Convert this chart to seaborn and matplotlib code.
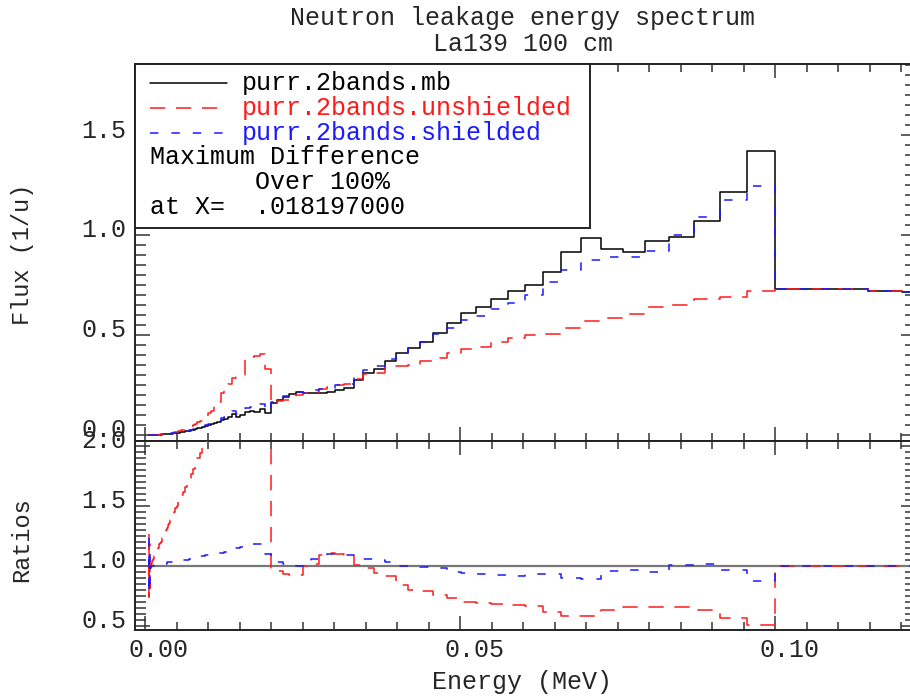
import numpy as np
import pandas as pd
import matplotlib
matplotlib.use("Agg")
import matplotlib.pyplot as plt
import seaborn as sns
from matplotlib.ticker import MultipleLocator
from matplotlib.transforms import ScaledTranslation
from matplotlib.patches import Rectangle
from matplotlib.lines import Line2D

# ---------------- data ----------------
BINS_PER_DECADE = 50          # equal-lethargy group structure
FIRST_EDGE_INDEX = -110       # lowest group edge = 0.1 * 10**(-110/50) MeV
REF_ENERGY = 0.1

series_names = ["purr.2bands.mb", "purr.2bands.unshielded", "purr.2bands.shielded"]

flux_mb = [
    # k=-110..-101
    0.0002, 0.0002, 0.0002, 0.0002, 0.0002, 0.0003, 0.0003, 0.0003, 0.0003, 0.0003,
    # k=-100..-51
    0.0003, 0.0003, 0.0004, 0.0004, 0.0004, 0.0005, 0.0006, 0.0006, 0.0007, 0.0008,
    0.0009, 0.0010, 0.0011, 0.0012, 0.0013, 0.0014, 0.0016, 0.0018, 0.0020, 0.0022,
    0.0024, 0.0027, 0.0030, 0.0033, 0.0036, 0.0040, 0.0044, 0.0049, 0.0054, 0.0060,
    0.0066, 0.0073, 0.0080, 0.0089, 0.0098, 0.0110, 0.0120, 0.0130, 0.0145, 0.0160,
    0.0180, 0.0200, 0.0220, 0.0245, 0.0270, 0.0300, 0.0330, 0.0370, 0.0410, 0.0450,
    # k=-50..-36
    0.050, 0.053, 0.060, 0.065, 0.075, 0.080, 0.088, 0.105, 0.090, 0.100,
    0.115, 0.120, 0.115, 0.130, 0.108,
    # k=-35..-1
    0.158, 0.175, 0.190, 0.205, 0.215, 0.210, 0.210, 0.210, 0.215, 0.225,
    0.235, 0.275, 0.310, 0.330, 0.370, 0.410, 0.437, 0.467, 0.510, 0.560,
    0.610, 0.640, 0.680, 0.720, 0.750, 0.817, 0.917, 0.987, 0.928, 0.917,
    0.970, 0.988, 1.072, 1.213, 1.420,
    # k=0..4
    0.732, 0.732, 0.728, 0.720, 0.713,
]

ratio_unshielded = [
    1.27, 0.74, 1.18, 0.82, 1.10, 0.90, 1.04, 0.97, 1.01, 1.02,
    1.02, 1.03, 1.04, 1.04, 1.05, 1.06, 1.06, 1.07, 1.08, 1.09,
    1.09, 1.10, 1.11, 1.12, 1.13, 1.14, 1.15, 1.17, 1.18, 1.19,
    1.20, 1.22, 1.23, 1.25, 1.27, 1.28, 1.30, 1.32, 1.34, 1.36,
    1.38, 1.40, 1.43, 1.45, 1.48, 1.50, 1.53, 1.56, 1.59, 1.62,
    1.66, 1.69, 1.73, 1.77, 1.81, 1.85, 1.90, 1.94, 1.99, 2.04,
    2.15, 2.25, 2.40, 2.50, 2.80, 2.85, 2.90, 2.70, 3.20, 3.00,
    3.30, 3.25, 3.45, 3.10, 3.05,
    0.98, 0.96, 0.93, 0.925, 0.925, 1.00, 1.02, 1.09, 1.105, 1.10,
    1.09, 1.01, 0.98, 0.94, 0.92, 0.84, 0.80, 0.79, 0.758, 0.73,
    0.703, 0.69, 0.685, 0.675, 0.667, 0.62, 0.585, 0.58, 0.633, 0.66,
    0.66, 0.66, 0.633, 0.57, 0.507,
    1.0, 1.0, 1.0, 1.0, 1.0,
]

ratio_shielded = [
    1.23, 0.77, 1.14, 0.86, 1.07, 0.93, 1.03, 0.98, 1.00, 1.00,
    1.00, 1.00, 1.00, 1.00, 1.00, 1.00, 1.00, 1.00, 1.01, 1.01,
    1.01, 1.01, 1.01, 1.01, 1.01, 1.01, 1.01, 1.01, 1.01, 1.02,
    1.02, 1.02, 1.02, 1.02, 1.02, 1.02, 1.02, 1.03, 1.03, 1.03,
    1.03, 1.03, 1.03, 1.04, 1.04, 1.04, 1.04, 1.04, 1.05, 1.05,
    1.05, 1.05, 1.06, 1.06, 1.06, 1.07, 1.07, 1.08, 1.08, 1.09,
    1.09, 1.10, 1.10, 1.11, 1.11, 1.12, 1.13, 1.14, 1.15, 1.16,
    1.17, 1.18, 1.18, 1.18, 1.10,
    1.04, 1.03, 1.017, 1.017, 1.00, 1.00, 1.06, 1.09, 1.10, 1.10,
    1.09, 1.065, 1.055, 1.05, 1.03, 1.00, 1.00, 0.995, 0.986, 0.953,
    0.94, 0.933, 0.925, 0.92, 0.935, 0.935, 0.897, 0.889, 0.958, 0.97,
    0.947, 1.01, 1.017, 0.968, 0.878,
    1.0, 1.0, 1.0, 1.0, 1.0,
]

title_lines = ["Neutron leakage energy spectrum", "La139 100 cm"]
x_label = "Energy (MeV)"
y_label_top = "Flux (1/u)"
y_label_bottom = "Ratios"
legend_notes = ["Maximum Difference", "       Over 100%", "at X=  .018197000"]
x_major_ticks = [0.00, 0.05, 0.10]
x_tick_labels = ["0.00", "0.05", "0.10"]
y_top_ticks = [0.0, 0.5, 1.0, 1.5]
y_top_labels = ["0.0", "0.5", "1.0", "1.5"]
y_bot_ticks = [0.5, 1.0, 1.5, 2.0]
y_bot_labels = ["0.5", "1.0", "1.5", "2.0"]

# ---------------- build table ----------------
n = len(flux_mb)
idx = np.arange(FIRST_EDGE_INDEX, FIRST_EDGE_INDEX + n + 1)
edges = REF_ENERGY * 10.0 ** (idx / BINS_PER_DECADE)
mb = np.asarray(flux_mb)
ru = np.asarray(ratio_unshielded)
rs = np.asarray(ratio_shielded)
flux = {series_names[0]: mb, series_names[1]: mb * ru, series_names[2]: mb * rs}
ratio = {s: flux[s] / mb for s in series_names}

rows = []
for s in series_names:
    f = np.append(flux[s], flux[s][-1])
    r = np.append(ratio[s], ratio[s][-1])
    for e, fv, rv in zip(edges, f, r):
        rows.append({"energy": e, "flux": fv, "ratio": rv, "series": s})
df = pd.DataFrame(rows)

# ---------------- style ----------------
sns.set_theme(style="white")
FONT = ["Liberation Mono", "DejaVu Sans Mono"]
plt.rcParams["font.family"] = FONT
plt.rcParams["axes.linewidth"] = 1.4
plt.rcParams["axes.edgecolor"] = "#222222"

W, H, DPI = 910, 698, 100
fig = plt.figure(figsize=(W / DPI, H / DPI), dpi=DPI)
fig.patch.set_facecolor("white")

def fx(px):
    return px / W

def fy(py):
    return 1 - py / H

ax1 = fig.add_axes([fx(135), fy(441), 781 / W, 377 / H])
ax2 = fig.add_axes([fx(135), fy(630), 781 / W, 189 / H])

styles = {
    series_names[0]: dict(color="black", lw=1.1, ls="-"),
    series_names[1]: dict(color="#ff1a1a", lw=1.1, ls=(0, (10.0, 7.0))),
    series_names[2]: dict(color="#1a1aff", lw=1.1, ls=(0, (5.5, 8.5))),
}
ratio_styles = dict(styles)
ratio_styles[series_names[0]] = dict(color="#777777", lw=1.6, ls="-")

for s in series_names:
    d = df[df["series"] == s]
    st = styles[s]
    sns.lineplot(data=d, x="energy", y="flux", ax=ax1, estimator=None,
                 color=st["color"], linewidth=st["lw"], linestyle=st["ls"],
                 drawstyle="steps-post")
for s in series_names:
    d = df[df["series"] == s]
    st = ratio_styles[s]
    sns.lineplot(data=d, x="energy", y="ratio", ax=ax2, estimator=None,
                 color=st["color"], linewidth=st["lw"], linestyle=st["ls"],
                 drawstyle="steps-post", zorder=3 if s != series_names[0] else 2)

XMIN, XMAX = -10 / 6300, 781 / 6300 - 10 / 6300
for ax in (ax1, ax2):
    ax.set_xlim(XMIN, XMAX)
    ax.set_xlabel("")
    ax.set_ylabel("")
    ax.set_xticks(x_major_ticks)
    ax.xaxis.set_minor_locator(MultipleLocator(0.005))
    ax.tick_params(axis="both", which="both", direction="in", top=True, right=True,
                   bottom=True, left=True, color="#333333", width=1.1,
                   labelsize=18, pad=6)
    ax.tick_params(axis="x", which="major", length=10)
    ax.tick_params(axis="x", which="minor", length=6)
    ax.tick_params(axis="y", which="major", length=11)
    ax.tick_params(axis="y", which="minor", length=8)
    for sp in ax.spines.values():
        sp.set_color("#222222")
        sp.set_linewidth(1.4)

ax1.set_ylim(-0.03, 1.855)
ax1.set_yticks(y_top_ticks, y_top_labels)
ax1.yaxis.set_minor_locator(MultipleLocator(0.05))
ax1.tick_params(axis="x", labelbottom=False)

ax2.set_ylim(1 - 64 / 120, 1 + 125 / 120)
ax2.set_yticks(y_bot_ticks, y_bot_labels)
ax2.yaxis.set_minor_locator(MultipleLocator(0.05))
ax2.set_xticklabels(x_tick_labels)

# tick-label offsets like the original device
off_x = ScaledTranslation(14 / DPI, 0, fig.dpi_scale_trans)
off_y = ScaledTranslation(0, 7 / DPI, fig.dpi_scale_trans)
for lab in ax2.get_xticklabels():
    lab.set_transform(lab.get_transform() + off_x)
for ax in (ax1, ax2):
    for lab in ax.get_yticklabels():
        lab.set_transform(lab.get_transform() + off_y)

# titles and axis labels
fig.text(fx(523), fy(18), title_lines[0], ha="center", va="center", fontsize=18)
fig.text(fx(523), fy(44), title_lines[1], ha="center", va="center", fontsize=18)
fig.text(fx(522), fy(682), x_label, ha="center", va="center", fontsize=18)
fig.text(fx(22), fy(254), y_label_top, ha="center", va="center", rotation=90, fontsize=17)
fig.text(fx(22), fy(540), y_label_bottom, ha="center", va="center", rotation=90, fontsize=17)

# legend box
fig.add_artist(Rectangle((fx(135), fy(228)), (590 - 135) / W, (228 - 64) / H,
                         transform=fig.transFigure, facecolor="white",
                         edgecolor="#222222", lw=1.4, zorder=5))
row_y = [83, 108, 133, 157, 182, 207]
for i, s in enumerate(series_names):
    st = styles[s]
    fig.add_artist(Line2D([fx(150), fx(227)], [fy(row_y[i])] * 2, transform=fig.transFigure,
                          color=st["color"], lw=st["lw"], ls=st["ls"], zorder=6))
    fig.text(fx(242), fy(row_y[i]), s, color=st["color"], ha="left", va="center",
             fontsize=18, zorder=6)
for j, note in enumerate(legend_notes):
    fig.text(fx(150), fy(row_y[3 + j]), note, color="black", ha="left", va="center",
             fontsize=18, zorder=6)

fig.savefig("out.png", dpi=DPI, facecolor="white")
